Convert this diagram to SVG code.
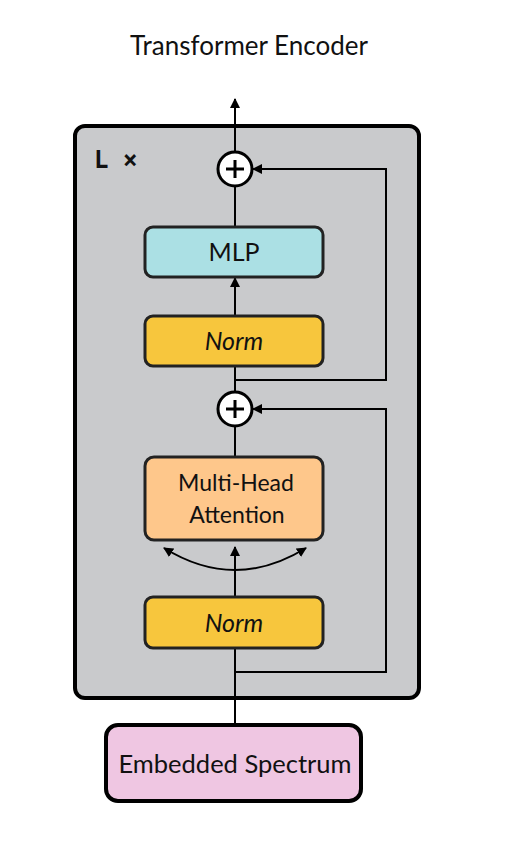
<svg xmlns="http://www.w3.org/2000/svg" width="506" height="850" viewBox="0 0 506 850">
<style>
  .t{font-family:"Lato","Open Sans","DejaVu Sans",sans-serif;fill:#111;text-anchor:middle}
  .i{font-style:italic}
  .box{stroke:#222;stroke-width:3}
  .ln{stroke:#000;stroke-width:2;fill:none}
</style>
<defs>
  <marker id="ah" viewBox="0 0 10 10" refX="9" refY="5" markerWidth="10" markerHeight="10" markerUnits="userSpaceOnUse" orient="auto-start-reverse">
    <path d="M0,0 L10,5 L0,10 Z" fill="#000"/>
  </marker>
</defs>
<rect width="506" height="850" fill="#fff"/>
<text class="t" x="249" y="55" font-size="26">Transformer Encoder</text>
<g id="encoder">
  <rect x="75" y="126" width="344" height="572" rx="10" fill="#c9cacc" stroke="#000" stroke-width="4"/>
  <text x="94" y="168" font-family="DejaVu Sans Mono,monospace" font-size="24" font-weight="bold" fill="#111">L ×</text>
</g>
<g id="connectors">
  <line class="ln" x1="235" y1="152" x2="235" y2="99" marker-end="url(#ah)"/>
  <line class="ln" x1="235" y1="227" x2="235" y2="186"/>
  <line class="ln" x1="235" y1="316" x2="235" y2="278" marker-end="url(#ah)"/>
  <line class="ln" x1="235" y1="366" x2="235" y2="392"/>
  <line class="ln" x1="235" y1="426" x2="235" y2="457"/>
  <line class="ln" x1="235" y1="597" x2="235" y2="547" marker-end="url(#ah)"/>
  <line class="ln" x1="235" y1="648" x2="235" y2="725"/>
  <path class="ln" d="M235,380 H386 V169 H253" marker-end="url(#ah)"/>
  <path class="ln" d="M235,672 H386 V409 H253" marker-end="url(#ah)"/>
  <path class="ln" d="M164,548 Q235,592 306,548" marker-start="url(#ah)" marker-end="url(#ah)"/>
</g>
<g id="add1">
  <circle cx="235" cy="169" r="17" fill="#fff" stroke="#000" stroke-width="3"/>
  <path d="M235,160 V178 M226,169 H244" stroke="#000" stroke-width="3"/>
</g>
<g id="add2">
  <circle cx="235" cy="409" r="17" fill="#fff" stroke="#000" stroke-width="3"/>
  <path d="M235,400 V418 M226,409 H244" stroke="#000" stroke-width="3"/>
</g>
<g id="mlp">
  <rect class="box" x="145" y="227" width="178" height="50" rx="8" fill="#abe0e4"/>
  <text class="t" x="234" y="261" font-size="25">MLP</text>
</g>
<g id="norm1">
  <rect class="box" x="145" y="316" width="178" height="50" rx="8" fill="#f7c63d"/>
  <text class="t i" x="234" y="350" font-size="25">Norm</text>
</g>
<g id="mha">
  <rect class="box" x="145" y="457" width="178" height="83" rx="9" fill="#fec78b"/>
  <text class="t" x="236" y="491" font-size="23">Multi-Head</text>
  <text class="t" x="237" y="523" font-size="23">Attention</text>
</g>
<g id="norm2">
  <rect class="box" x="145" y="597" width="178" height="51" rx="8" fill="#f7c63d"/>
  <text class="t i" x="234" y="632" font-size="25">Norm</text>
</g>
<g id="embedded">
  <rect x="106" y="725" width="255" height="76" rx="12" fill="#efc6e2" stroke="#000" stroke-width="4"/>
  <text class="t" x="235" y="773" font-size="25.5">Embedded Spectrum</text>
</g>
</svg>
